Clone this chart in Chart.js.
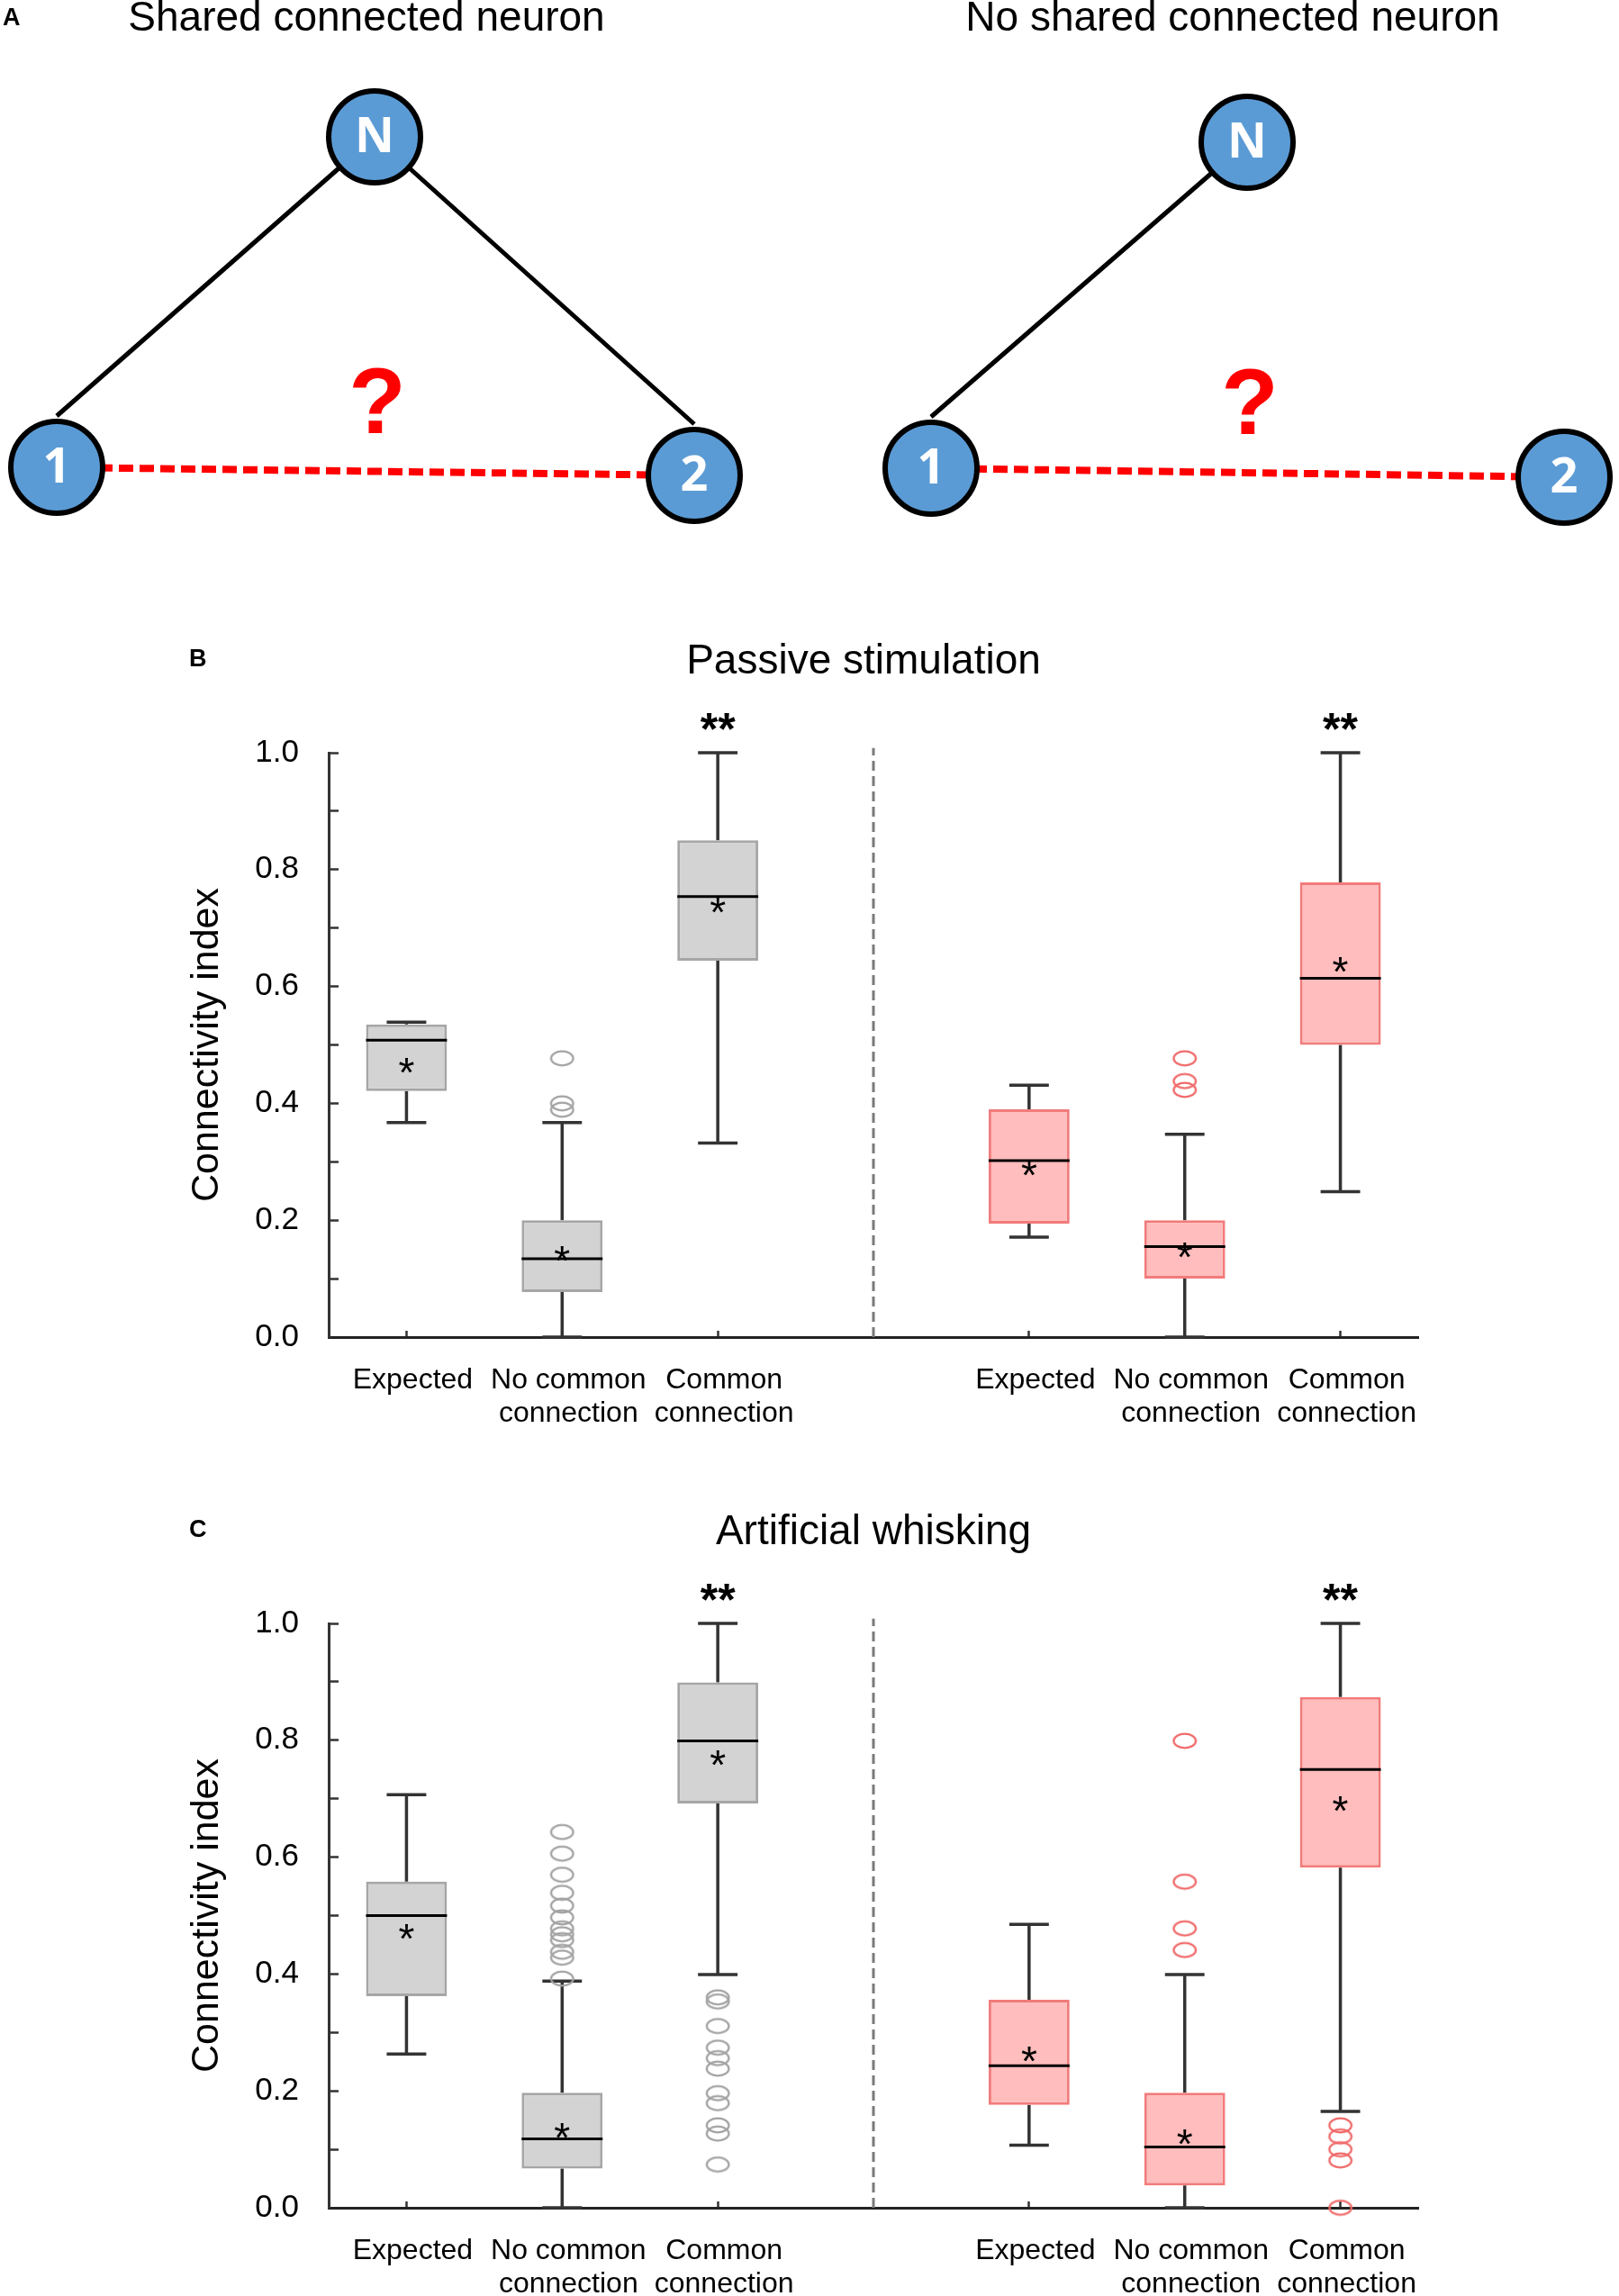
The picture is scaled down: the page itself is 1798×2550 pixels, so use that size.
<!DOCTYPE html>
<html>
<head>
<meta charset="utf-8">
<script src="https://cdn.jsdelivr.net/npm/chart.js@4.4.0/dist/chart.umd.min.js"></script>
<style>
  html, body { margin: 0; padding: 0; background: #ffffff; width: 1798px; height: 2550px; overflow: hidden; }
  .pane { position: absolute; left: 0; width: 1798px; }
</style>
</head>
<body>
<div class="pane" style="top:0px;height:640px"><canvas id="panelA"></canvas></div>
<div class="pane" style="top:680px;height:940px"><canvas id="panelB"></canvas></div>
<div class="pane" style="top:1647px;height:940px"><canvas id="panelC"></canvas></div>
<script>
// ---------------- DATA ----------------
// Panel A: schematic
const diagramTitles = ['Shared connected neuron', 'No shared connected neuron'];
const nodeNames = ['N', '1', '2'];
const sharedNodeX = [416, 63, 771];
const sharedNodeY = [152, 519, 528];
const noSharedNodeX = [1385, 1034, 1737];
const noSharedNodeY = [158, 520, 530];
const sharedLinks = [[0, 1], [0, 2]];
const noSharedLinks = [[0, 1]];
const testedLink = [1, 2];

// Panels B and C: box plots (3 gray groups, then 3 pink groups)
const categories = [['Expected'], ['No common', 'connection'], ['Common', 'connection']];
const groupX = [0, 1, 2, 4, 5, 6];
const separatorX = 3;

const passiveMin    = [0.367, 0.000, 0.332, 0.171, 0.000, 0.249];
const passiveQ1     = [0.421, 0.077, 0.644, 0.194, 0.100, 0.500];
const passiveMedian = [0.508, 0.134, 0.754, 0.302, 0.155, 0.614];
const passiveQ3     = [0.535, 0.200, 0.850, 0.390, 0.200, 0.778];
const passiveMax    = [0.539, 0.367, 1.000, 0.431, 0.347, 1.000];
const passiveMean   = [0.469, 0.146, 0.743, 0.292, 0.153, 0.641];
const passiveOutliers = [[], [0.477, 0.400, 0.389], [], [], [0.477, 0.438, 0.423], []];
const passiveSignificance = ['', '', '**', '', '', '**'];

const whiskMin    = [0.263, 0.000, 0.399, 0.107, 0.000, 0.165];
const whiskQ1     = [0.362, 0.067, 0.692, 0.176, 0.038, 0.582];
const whiskMedian = [0.500, 0.118, 0.799, 0.243, 0.104, 0.750];
const whiskQ3     = [0.558, 0.197, 0.899, 0.356, 0.197, 0.874];
const whiskMax    = [0.707, 0.388, 1.000, 0.485, 0.399, 1.000];
const whiskMean   = [0.476, 0.135, 0.774, 0.266, 0.125, 0.695];
const whiskOutliers = [
  [],
  [0.643, 0.606, 0.570, 0.539, 0.517, 0.497, 0.478, 0.468, 0.458, 0.438, 0.428, 0.392],
  [0.360, 0.353, 0.311, 0.274, 0.256, 0.238, 0.196, 0.179, 0.141, 0.127, 0.074],
  [],
  [0.799, 0.558, 0.478, 0.441],
  [0.141, 0.122, 0.100, 0.081, 0.000]
];
const whiskSignificance = ['', '', '**', '', '', '**'];

const yTicks = [0, 0.1, 0.2, 0.3, 0.4, 0.5, 0.6, 0.7, 0.8, 0.9, 1.0];

// ---------------- STYLE ----------------
const FONT = '"Liberation Sans", Arial, Helvetica, sans-serif';
Chart.defaults.font.family = FONT;
Chart.defaults.color = '#000';
const boxFill   = ['#d3d3d3', '#d3d3d3', '#d3d3d3', '#ffbdbd', '#ffbdbd', '#ffbdbd'];
const boxBorder = ['#a6a6a6', '#a6a6a6', '#a6a6a6', '#f27b7b', '#f27b7b', '#f27b7b'];
const capHalf = 0.127;
const boxHalf = 0.26;
const nodeRadius = 57;

function ellipseMarker(color) {
  const c = document.createElement('canvas');
  c.width = 30; c.height = 21;
  const g = c.getContext('2d');
  g.strokeStyle = color; g.lineWidth = 2.3;
  g.beginPath(); g.ellipse(15, 10.5, 12.3, 7.8, 0, 0, Math.PI * 2); g.stroke();
  return c;
}
const grayMark = ellipseMarker('#a3a3a3');
const pinkMark = ellipseMarker('#f06a6a');

// ---------------- PANEL A ----------------
function diagramDatasets(nx, ny, links) {
  const ds = [];
  // connections run from the centre of N to the top of the connected neuron
  links.forEach(([a, b]) => ds.push({
    type: 'line', data: [{x: nx[a], y: ny[a]}, {x: nx[b], y: ny[b] - nodeRadius}],
    borderColor: '#000', borderWidth: 5, pointRadius: 0, order: 3
  }));
  ds.push({
    type: 'line', data: [{x: nx[testedLink[0]], y: ny[testedLink[0]]}, {x: nx[testedLink[1]], y: ny[testedLink[1]]}],
    borderColor: '#ff0000', borderWidth: 8, borderDash: [16, 7], pointRadius: 0, order: 2
  });
  ds.push({
    type: 'scatter', data: nx.map((x, i) => ({x, y: ny[i]})),
    pointRadius: 51, pointBackgroundColor: '#5b9bd5', pointBorderColor: '#000', pointBorderWidth: 6, order: 1
  });
  return ds;
}

const diagramText = {
  id: 'diagramText',
  afterDatasetsDraw(chart) {
    const {ctx, scales: {x, y}} = chart;
    ctx.save();
    ctx.textAlign = 'center';
    ctx.textBaseline = 'middle';
    ctx.fillStyle = '#ffffff';
    ctx.font = 'bold 54px "Open Sans", ' + FONT;
    [[sharedNodeX, sharedNodeY], [noSharedNodeX, noSharedNodeY]].forEach(([nx, ny]) => {
      nodeNames.forEach((n, i) => ctx.fillText(n, x.getPixelForValue(nx[i]), y.getPixelForValue(ny[i]) + 2));
    });
    // question marks above the tested pair
    ctx.fillStyle = '#ff0000';
    ctx.font = 'bold 104px ' + FONT;
    ctx.textBaseline = 'alphabetic';
    [[sharedNodeX, sharedNodeY], [noSharedNodeX, noSharedNodeY]].forEach(([nx, ny]) => {
      const px = x.getPixelForValue(nx[0]);
      const py = y.getPixelForValue((ny[1] + ny[2]) / 2);
      ctx.fillText('?', px + 3, py - 43);
    });
    // titles
    ctx.fillStyle = '#000';
    ctx.font = '46px ' + FONT;
    ctx.fillText(diagramTitles[0], 407, 34);
    ctx.fillText(diagramTitles[1], 1369, 34);
    ctx.textAlign = 'left';
    ctx.font = 'bold 27px ' + FONT;
    ctx.fillText('A', 3, 28);
    ctx.restore();
  }
};

new Chart(document.getElementById('panelA'), {
  type: 'scatter',
  data: { datasets: [
    ...diagramDatasets(sharedNodeX, sharedNodeY, sharedLinks),
    ...diagramDatasets(noSharedNodeX, noSharedNodeY, noSharedLinks)
  ]},
  options: {
    responsive: true, maintainAspectRatio: false, animation: false, events: [],
    layout: { padding: 0, autoPadding: false },
    plugins: { legend: { display: false }, tooltip: { enabled: false } },
    scales: {
      x: { type: 'linear', min: 0, max: 1798, display: false },
      y: { type: 'linear', min: 0, max: 640, reverse: true, display: false }
    }
  },
  plugins: [diagramText]
});

// ---------------- PANELS B & C ----------------
function whiskerPoints(lo, q1, q3, hi) {
  const pts = [];
  groupX.forEach((x, i) => {
    pts.push({x, y: lo[i]}, {x, y: q1[i]}, {x, y: null});
    pts.push({x, y: q3[i]}, {x, y: hi[i]}, {x, y: null});
    pts.push({x: x - capHalf, y: hi[i]}, {x: x + capHalf, y: hi[i]}, {x, y: null});
    pts.push({x: x - capHalf, y: lo[i]}, {x: x + capHalf, y: lo[i]}, {x, y: null});
  });
  return pts;
}
function medianPoints(med) {
  const pts = [];
  groupX.forEach((x, i) => pts.push({x: x - boxHalf, y: med[i]}, {x: x + boxHalf, y: med[i]}, {x, y: null}));
  return pts;
}
function outlierPoints(outs, from, to) {
  const pts = [];
  for (let i = from; i < to; i++) outs[i].forEach(v => pts.push({x: groupX[i], y: v}));
  return pts;
}

const boxAnnotations = {
  id: 'boxAnnotations',
  afterDatasetsDraw(chart, args, opts) {
    const {ctx, chartArea, scales: {x, y}} = chart;
    ctx.save();
    ctx.fillStyle = '#000';
    ctx.textAlign = 'center';
    ctx.textBaseline = 'alphabetic';
    ctx.font = '46px ' + FONT;
    opts.means.forEach((m, i) => ctx.fillText('*', x.getPixelForValue(groupX[i]), y.getPixelForValue(m) + 26));
    ctx.font = 'bold 50px ' + FONT;
    opts.significance.forEach((s, i) => {
      if (s) ctx.fillText(s, x.getPixelForValue(groupX[i]), y.getPixelForValue(opts.max[i]) - 9);
    });
    ctx.font = '46px ' + FONT;
    ctx.fillText(opts.title, (chartArea.left + chartArea.right) / 2 + opts.titleShift, chartArea.top - 88);
    ctx.textAlign = 'left';
    ctx.font = 'bold 27px ' + FONT;
    ctx.fillText(opts.letter, 210, chartArea.top - 96);
    ctx.restore();
  }
};

function makeBoxChart(id, d) {
  return new Chart(document.getElementById(id), {
    type: 'bar',
    data: { datasets: [
      { type: 'line', data: [{x: separatorX, y: 0}, {x: separatorX, y: 1.008}], borderColor: '#7a7a7a',
        borderWidth: 3, borderDash: [11, 6], pointRadius: 0, clip: false, order: 6 },
      { type: 'line', data: whiskerPoints(d.min, d.q1, d.q3, d.max), borderColor: '#333333',
        borderWidth: 3.5, pointRadius: 0, spanGaps: false, clip: false, order: 5 },
      { type: 'bar', data: groupX.map((x, i) => ({x, y: [d.q1[i], d.q3[i]]})),
        backgroundColor: boxFill, borderColor: boxBorder, borderWidth: 3, borderSkipped: false,
        barPercentage: 0.52, categoryPercentage: 1.0, order: 4 },
      { type: 'line', data: medianPoints(d.median), borderColor: '#000', borderWidth: 3,
        pointRadius: 0, spanGaps: false, order: 3 },
      { type: 'scatter', data: outlierPoints(d.outliers, 0, 3), pointStyle: grayMark, pointRadius: 12, clip: false, order: 2 },
      { type: 'scatter', data: outlierPoints(d.outliers, 3, 6), pointStyle: pinkMark, pointRadius: 12, clip: false, order: 1 }
    ]},
    options: {
      responsive: true, maintainAspectRatio: false, animation: false, events: [],
      layout: { padding: { left: 0, right: 223, top: 156, bottom: 0 } },
      plugins: {
        legend: { display: false }, tooltip: { enabled: false },
        boxAnnotations: { means: d.mean, max: d.max, significance: d.significance,
                          title: d.title, letter: d.letter, titleShift: d.titleShift }
      },
      scales: {
        x: {
          type: 'linear', min: -0.5, max: 6.5, offset: false,
          afterBuildTicks: s => { s.ticks = groupX.map(v => ({value: v})); },
          afterFit: s => { s.height = 135; },
          grid: { color: 'transparent', tickColor: '#333', tickLength: -7, tickWidth: 2.5, offset: false },
          border: { color: '#222', width: 3 },
          ticks: {
            autoSkip: false, maxRotation: 0, padding: 36, labelOffset: 7, color: '#000',
            font: { size: 32, lineHeight: 1.18 },
            callback: (v, i) => categories[i % 3]
          }
        },
        y: {
          type: 'linear', min: 0, max: 1,
          afterBuildTicks: s => { s.ticks = yTicks.map(v => ({value: v})); },
          afterFit: s => { s.width = 365; },
          grid: { color: 'transparent', tickColor: '#333', tickLength: -11, tickWidth: 2.5 },
          border: { color: '#333', width: 3 },
          ticks: {
            autoSkip: false, padding: 44, color: '#000', font: { size: 35 },
            callback: v => (Math.round(v * 10) % 2 === 0 ? v.toFixed(1) : '')
          },
          title: { display: true, text: 'Connectivity index', color: '#000',
                   font: { size: 43, lineHeight: 1.2 }, padding: { top: 204, bottom: 0 } }
        }
      }
    },
    plugins: [boxAnnotations]
  });
}

makeBoxChart('panelB', {
  min: passiveMin, q1: passiveQ1, median: passiveMedian, q3: passiveQ3, max: passiveMax,
  mean: passiveMean, outliers: passiveOutliers, significance: passiveSignificance,
  title: 'Passive stimulation', letter: 'B', titleShift: -11
});
makeBoxChart('panelC', {
  min: whiskMin, q1: whiskQ1, median: whiskMedian, q3: whiskQ3, max: whiskMax,
  mean: whiskMean, outliers: whiskOutliers, significance: whiskSignificance,
  title: 'Artificial whisking', letter: 'C', titleShift: 0
});
</script>
</body>
</html>
